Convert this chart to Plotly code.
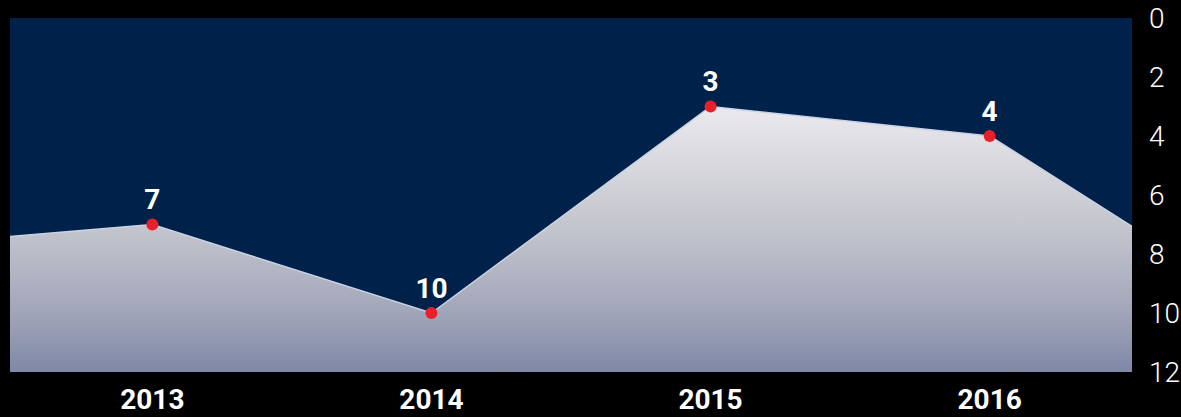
import plotly.graph_objects as go

# data
years = [2013, 2014, 2015, 2016]
ranks = [7, 10, 3, 4]
# neighbouring (cut-off) years that shape the area at the edges
edge_years = [2012, 2017]
edge_ranks = [7.8, 10]
y_ticks = [0, 2, 4, 6, 8, 10, 12]
y_min, y_max = 0, 12

all_years = [edge_years[0]] + years + [edge_years[1]]
all_ranks = [edge_ranks[0]] + ranks + [edge_ranks[1]]

NAVY = "#00214a"
FONT = "Roboto, DejaVu Sans, sans-serif"

fig = go.Figure()

# baseline at the bottom of the reversed axis
fig.add_trace(go.Scatter(
    x=all_years, y=[y_max] * len(all_years), mode="lines",
    line=dict(width=0, color="rgba(0,0,0,0)"), hoverinfo="skip", showlegend=False,
))

# gradient area
fig.add_trace(go.Scatter(
    x=all_years, y=all_ranks, mode="lines",
    line=dict(color="#c9d3e6", width=1.5),
    fill="tonexty",
    fillgradient=dict(
        type="vertical",
        colorscale=[[0, "#ebe9ed"], [0.45, "#c4c6cd"], [0.78, "#a1a5b9"], [1, "#7f88a6"]],
        start=3, stop=12,
    ),
    hoverinfo="skip", showlegend=False,
))

# markers with labels
fig.add_trace(go.Scatter(
    x=years, y=ranks, mode="markers+text",
    marker=dict(color="#e8202a", size=12),
    text=[str(v) for v in ranks], textposition="top center",
    textfont=dict(family=FONT, size=28, color="white", weight="bold"),
    showlegend=False,
))

fig.update_layout(
    width=1181, height=417,
    margin=dict(l=10, r=49, t=18, b=45, autoexpand=False),
    paper_bgcolor="black",
    plot_bgcolor=NAVY,
    xaxis=dict(
        range=[2012.49, 2016.51], tickvals=years, ticktext=[str(y) for y in years],
        showgrid=False, zeroline=False, showline=False, ticks="", automargin=False,
        tickfont=dict(family=FONT, size=28, color="white", weight="bold"),
        ticklabelstandoff=8,
    ),
    yaxis=dict(
        range=[y_max, y_min], side="right", tickvals=y_ticks, automargin=False,
        showgrid=False, zeroline=False, showline=False, ticks="",
        tickfont=dict(family=FONT, size=28, color="white", weight=300),
        ticklabelstandoff=16,
    ),
)

post = "document.body.style.margin='0';"
fig.write_html("out.html", post_script=post, config={"displayModeBar": False})
